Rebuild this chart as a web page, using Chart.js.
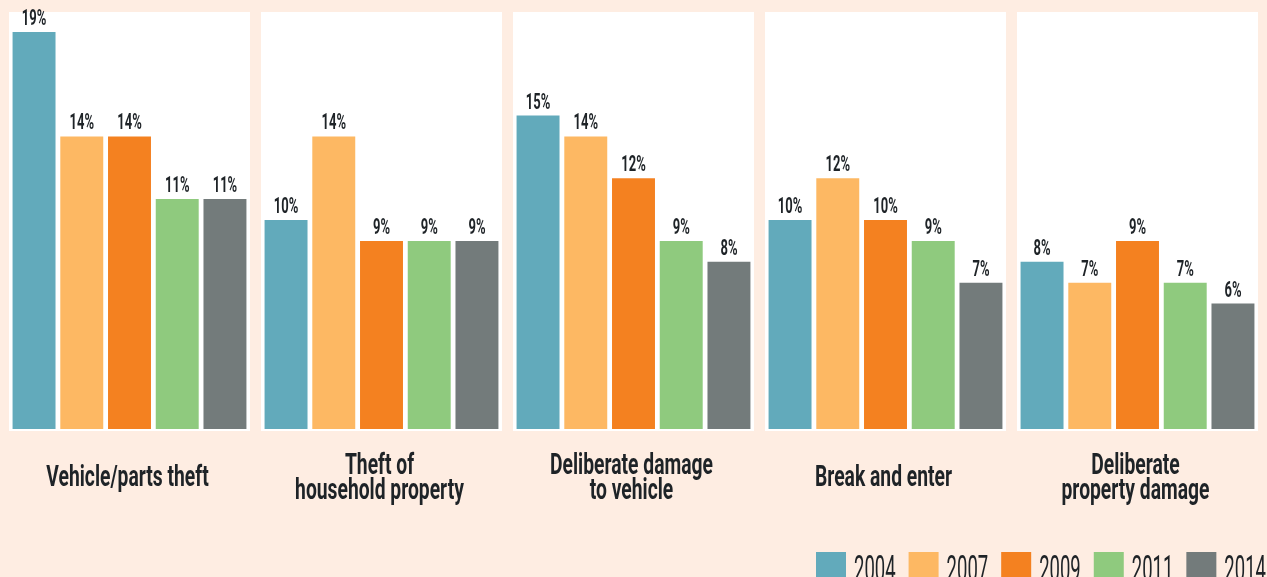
<!DOCTYPE html>
<html>
<head>
<meta charset="utf-8">
<script src="https://cdn.jsdelivr.net/npm/chart.js@4"></script>
<style>
  html, body { margin: 0; padding: 0; background: #feede2; }
  #wrap { width: 1267px; height: 577px; position: relative; overflow: hidden; }
</style>
</head>
<body>
<div id="wrap"><canvas id="chart" width="1267" height="577"></canvas></div>
<script>
// Crime categories (multi-line labels) and survey years
const categories = [
  ["Vehicle/parts theft"],
  ["Theft of", "household property"],
  ["Deliberate damage", "to vehicle"],
  ["Break and enter"],
  ["Deliberate", "property damage"]
];
const years = ["2004", "2007", "2009", "2011", "2014"];

// Percentage of households, per year
const values2004 = [19, 10, 15, 10, 8];
const values2007 = [14, 14, 14, 12, 7];
const values2009 = [14, 9, 12, 10, 9];
const values2011 = [11, 9, 9, 9, 7];
const values2014 = [11, 9, 8, 7, 6];

const yearColors = ["#62aabb", "#fdb863", "#f48120", "#8fca7e", "#737b7b"];
const textColor = "#1e2327";
const fontFamily = "Roboto, 'Liberation Sans', sans-serif";

// Draws horizontally condensed text
function condensedText(ctx, text, x, y, sx, align) {
  ctx.save();
  ctx.translate(x, y);
  ctx.scale(sx, 1);
  ctx.textAlign = align;
  ctx.textBaseline = "alphabetic";
  ctx.fillText(text, 0, 0);
  ctx.restore();
}

// White panel behind each category group
const panelPlugin = {
  id: "panels",
  beforeDatasetsDraw(chart) {
    const { ctx, scales: { x, y } } = chart;
    const step = (x.right - x.left) / chart.data.labels.length;
    const w = step - 11;
    ctx.save();
    ctx.fillStyle = "#ffffff";
    chart.data.labels.forEach((_, i) => {
      const cx = x.getPixelForValue(i);
      ctx.fillRect(cx - w / 2, y.top + 1, w, y.bottom - y.top + 1);
    });
    ctx.restore();
  }
};

// Percent labels above bars, category names below, legend at bottom right
const textPlugin = {
  id: "texts",
  afterDatasetsDraw(chart) {
    const { ctx, scales: { x, y } } = chart;
    ctx.save();
    ctx.fillStyle = textColor;

    // values
    ctx.font = `700 22px ${fontFamily}`;
    chart.data.datasets.forEach((ds, di) => {
      const meta = chart.getDatasetMeta(di);
      meta.data.forEach((bar, i) => {
        condensedText(ctx, ds.data[i] + "%", bar.x, bar.y - 7, 0.59, "center");
      });
    });

    // category names
    ctx.font = `700 29px ${fontFamily}`;
    const lineH = 25;
    chart.data.labels.forEach((lines, i) => {
      const cx = x.getPixelForValue(i) - 2;
      const first = y.bottom + 57 - (lines.length - 1) * lineH / 2;
      lines.forEach((ln, k) => {
        condensedText(ctx, ln, cx, first + k * lineH, 0.665, "center");
      });
    });

    // legend
    ctx.font = `400 37px ${fontFamily}`;
    const sx = 0.5;
    let lx = 816;
    const boxTop = 552;
    chart.data.datasets.forEach((ds) => {
      ctx.fillStyle = ds.backgroundColor;
      ctx.fillRect(lx, boxTop, 30, 30);
      lx += 30 + 8;
      ctx.fillStyle = textColor;
      condensedText(ctx, ds.label, lx, 581, sx, "left");
      lx += ctx.measureText(ds.label).width * sx + 13;
    });
    ctx.restore();
  }
};

const seriesValues = [values2004, values2007, values2009, values2011, values2014];

new Chart(document.getElementById("chart"), {
  type: "bar",
  data: {
    labels: categories,
    datasets: years.map((yr, i) => ({
      label: yr,
      data: seriesValues[i],
      backgroundColor: yearColors[i],
      borderWidth: 0,
      categoryPercentage: 0.947,
      barPercentage: 0.9
    }))
  },
  options: {
    responsive: false,
    animation: false,
    devicePixelRatio: 1,
    layout: { padding: { left: 3.5, right: 3.5, top: 11, bottom: 148 } },
    scales: {
      x: { display: false, grid: { display: false } },
      y: { display: false, min: 0, max: 20, grid: { display: false } }
    },
    plugins: {
      legend: { display: false },
      tooltip: { enabled: false }
    }
  },
  plugins: [panelPlugin, textPlugin]
});
</script>
</body>
</html>
